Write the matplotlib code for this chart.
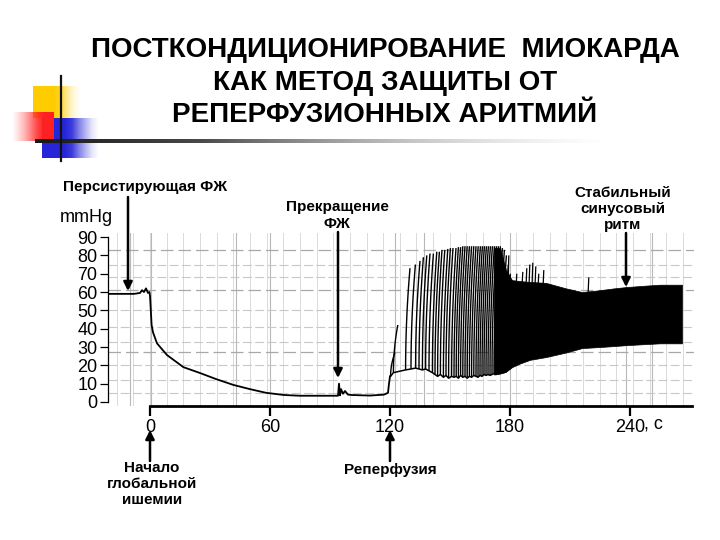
import numpy as np
import matplotlib
matplotlib.use("Agg")
import matplotlib.pyplot as plt
from matplotlib.collections import LineCollection

plt.rcParams['font.family'] = ['Liberation Sans', 'DejaVu Sans']

# ---------------- data ----------------
title_lines = ["ПОСТКОНДИЦИОНИРОВАНИЕ  МИОКАРДА", "КАК МЕТОД ЗАЩИТЫ ОТ", "РЕПЕРФУЗИОННЫХ АРИТМИЙ"]
y_ticks = [0, 10, 20, 30, 40, 50, 60, 70, 80, 90]
y_tick_labels = ["0", "10", "20", "30", "40", "50", "60", "70", "80", "90"]
x_ticks = [0, 60, 120, 180, 240]
x_tick_labels = ["0", "60", "120", "180", "240"]

# pressure trace before / during global ischemia (s, mmHg)
t_isch = [-21, -15, -8, -5, -4, -3, -2, -1, -0.3, 0, 0.3, 0.8, 1.5, 3.5, 8.5, 16.7, 25, 33, 41.7,
          50, 58, 67, 75, 85, 94, 94.5, 95, 95.5, 96.5, 97.5, 99, 101, 110, 117, 119, 119.5, 120]
p_isch = [59, 59, 59, 59.5, 61, 60, 62, 59.5, 60, 58, 52, 42, 38, 32, 25.6, 19, 15.8, 12.5, 9.3,
          7, 5, 3.8, 3.4, 3.4, 3.4, 10, 3.6, 7, 4.5, 6, 4, 3.8, 3.5, 4, 5, 10, 14]

# individual beats after reperfusion (time, systolic peak, diastolic base)
beat_t = [120.3, 121.7, 127.8, 130.5, 132.8, 134.5, 136.2, 137.8, 139.5, 141.2, 142.5, 143.8,
          145.2, 146.7, 148.0, 149.3, 150.8, 152.0, 153.1, 154.2, 155.3, 156.4, 157.5, 158.6,
          159.7, 160.8, 161.9, 163.0, 164.0, 165.0, 166.0, 167.0, 168.0, 169.0, 170.0, 171.0,
          172.0, 173.0, 174.0, 175.0, 176.0, 177.0, 178.0]
beat_peak = [27, 42, 73, 75, 77, 79, 80, 81, 81, 82, 82, 83,
             83, 83.5, 84, 84, 84, 84.5, 84.5, 85, 85, 85, 85, 85,
             85, 85, 85, 85, 85, 85, 85, 85, 85, 85, 85, 85,
             85, 85, 84, 83, 80, 75, 70]
beat_base = [14, 16, 17.5, 18, 18.5, 18, 17.5, 18, 17, 16, 15, 14,
             15, 13.5, 14.5, 13, 14, 13.5, 14, 13, 14.5, 13.5, 14, 13,
             14, 13.5, 14.5, 14, 13.5, 14.5, 14, 15, 14.5, 15, 14.5, 15,
             15.5, 15, 15.5, 15.5, 16, 16, 16.5]

# dense (unresolved) beats: envelope of the black band
band_t = [172, 175, 178, 181, 185, 190, 198, 208, 216, 225, 232, 238, 248, 255, 266]
band_upper = [84, 84, 72, 66.5, 66, 65.5, 65, 62, 60, 61, 62, 62.7, 63.5, 64, 64]
band_lower = [15, 15.5, 16.5, 19, 21, 23, 24.5, 27, 29.4, 30, 30.5, 31, 31.6, 32, 32]

# isolated high beats above the band
spike_t = [179, 183, 186, 188, 189.5, 191, 192.5, 194, 196.5, 219]
spike_peak = [80, 70, 71, 73, 75, 76, 74, 70, 72, 68]
spike_base = [60, 62, 63, 63, 63, 63, 63, 63, 62, 58]

# ---------------- figure ----------------
W, H = 720, 540
fig = plt.figure(figsize=(7.2, 5.4), dpi=100, facecolor='white')

bg = fig.add_axes([0, 0, 1, 1], zorder=0)
bg.set_xlim(0, W); bg.set_ylim(H, 0); bg.axis('off')


def grad(ax, x0, x1, y0, y1, rgb, alphas):
    n = len(alphas)
    arr = np.zeros((1, n, 4))
    arr[0, :, :3] = rgb
    arr[0, :, 3] = alphas
    ax.imshow(arr, extent=(x0, x1, y1, y0), aspect='auto', interpolation='bilinear', zorder=1)


# decorative squares
grad(bg, 33, 84, 86, 118, (1.0, 0.80, 0.0), [1, 1, 1, 1, 0.9, 0.6, 0.3, 0.1, 0.0])
grad(bg, 42, 102, 118, 158, (0.15, 0.15, 0.85), [1, 1, 1, 1, 0.9, 0.6, 0.35, 0.12, 0.0])
grad(bg, 9, 54, 112, 141, (1.0, 0.13, 0.13), [0.0, 0.15, 0.35, 0.6, 0.85, 1, 1])
# horizontal gradient bar
n = 60
arr = np.zeros((1, n, 4))
shade = np.linspace(0.1, 0.75, n)
arr[0, :, 0] = shade; arr[0, :, 1] = shade; arr[0, :, 2] = shade
arr[0, :, 3] = np.clip(np.linspace(1.4, 0.0, n), 0, 1)
bg.imshow(arr, extent=(35, 610, 143, 139.5), aspect='auto', interpolation='bilinear', zorder=2)
bg.plot([61, 61], [76, 161], color='#111111', lw=1.6, zorder=3)
bg.set_xlim(0, W); bg.set_ylim(H, 0)

# title
for i, line in enumerate(title_lines):
    bg.text(385, 50 + 32.5 * i, line, ha='center', va='center', fontsize=20, fontweight='bold',
            color='black')

# ---------------- main chart ----------------
x_left, x_right = -21, 272
y_bot, y_top = -2.2, 92
ax = fig.add_axes([108 / W, (H - 406) / H, 586 / W, (406 - 233.4) / H], zorder=1)
ax.set_xlim(x_left, x_right); ax.set_ylim(y_bot, y_top)
ax.patch.set_alpha(0)

# chart-paper grid
for gx in np.arange(-16.7, 270, 8.33):
    ax.axvline(gx, color='#dadada', lw=0.7, zorder=0)
for gx in [-10, 0.5, 43, 60, 122.5, 137, 180, 238, 251]:
    ax.axvline(gx, color='#b8b8b8', lw=0.8, zorder=0)
for gy in [5, 12, 20, 33, 41, 50, 68, 75]:
    ax.axhline(gy, color='#c8c8c8', lw=0.8, zorder=0, dashes=(8, 3))
for gy in [27, 61, 83]:
    ax.axhline(gy, color='#a8a8a8', lw=0.9, zorder=0, dashes=(10, 4))

# ischemia trace
ax.plot(t_isch, p_isch, color='black', lw=1.3, zorder=3, solid_joinstyle='round')

# reperfusion beats
u = np.linspace(0, 1, 12)
segs = []
for t0, pk, b in zip(beat_t, beat_peak, beat_base):
    segs.append(np.column_stack([t0 + 2.2 * u ** 2, b + (pk - b) * u]))
ax.add_collection(LineCollection(segs, colors='black', linewidths=1.0, zorder=3))
ax.plot(beat_t, beat_base, color='black', lw=1.1, zorder=3)

# dense band
ax.fill_between(band_t, band_lower, band_upper, color='black', lw=0.5, zorder=3)
segs2 = [np.column_stack([[t0, t0 + 0.4], [b, pk]]) for t0, pk, b in zip(spike_t, spike_peak, spike_base)]
ax.add_collection(LineCollection(segs2, colors='black', linewidths=0.9, zorder=3))

# axes styling
for s in ['top', 'right']:
    ax.spines[s].set_visible(False)
ax.spines['left'].set_bounds(0, 90)
ax.spines['left'].set_linewidth(0.9)
ax.spines['bottom'].set_bounds(0, 271)
ax.spines['bottom'].set_linewidth(2.0)
ax.set_xticks(x_ticks)
ax.set_xticklabels(x_tick_labels)
ax.set_yticks(y_ticks)
ax.set_yticklabels(y_tick_labels)
ax.tick_params(axis='x', direction='out', length=7.5, width=1.6, pad=2, labelsize=13)
ax.tick_params(axis='y', direction='out', length=5.5, width=0.9, pad=2, labelsize=13)

# ---------------- overlay: annotations ----------------
ov = fig.add_axes([0, 0, 1, 1], zorder=2)
ov.set_xlim(0, W); ov.set_ylim(H, 0); ov.axis('off'); ov.patch.set_alpha(0)

afs = 11
ov.text(145, 187, "Персистирующая ФЖ", ha='center', va='center', fontsize=afs, fontweight='bold')
ov.text(86, 218, "mmHg", ha='center', va='center', fontsize=13)
ov.text(337, 207, "Прекращение", ha='center', va='center', fontsize=afs, fontweight='bold')
ov.text(337, 224, "ФЖ", ha='center', va='center', fontsize=afs, fontweight='bold')
for i, s in enumerate(["Стабильный", "синусовый", "ритм"]):
    ov.text(623, 193 + 16 * i, s, ha='center', va='center', fontsize=afs, fontweight='bold')
for i, s in enumerate(["Начало", "глобальной", "ишемии"]):
    ov.text(152, 468 + 16 * i, s, ha='center', va='center', fontsize=afs, fontweight='bold')
ov.text(390, 470, "Реперфузия", ha='center', va='center', fontsize=afs, fontweight='bold')
ov.text(644, 424, ", с", ha='left', va='center', fontsize=13)

ap = dict(arrowstyle='-|>', lw=1.8, color='black', mutation_scale=13, shrinkA=0, shrinkB=0)
ov.annotate("", xy=(128, 291), xytext=(128, 197), arrowprops=ap)
ov.annotate("", xy=(338, 378), xytext=(338, 232), arrowprops=ap)
ov.annotate("", xy=(626, 287), xytext=(626, 233), arrowprops=ap)
ov.annotate("", xy=(150, 430), xytext=(150, 461), arrowprops=ap)
ov.annotate("", xy=(390, 430), xytext=(390, 461), arrowprops=ap)

fig.savefig("out.png", dpi=100, facecolor='white')
